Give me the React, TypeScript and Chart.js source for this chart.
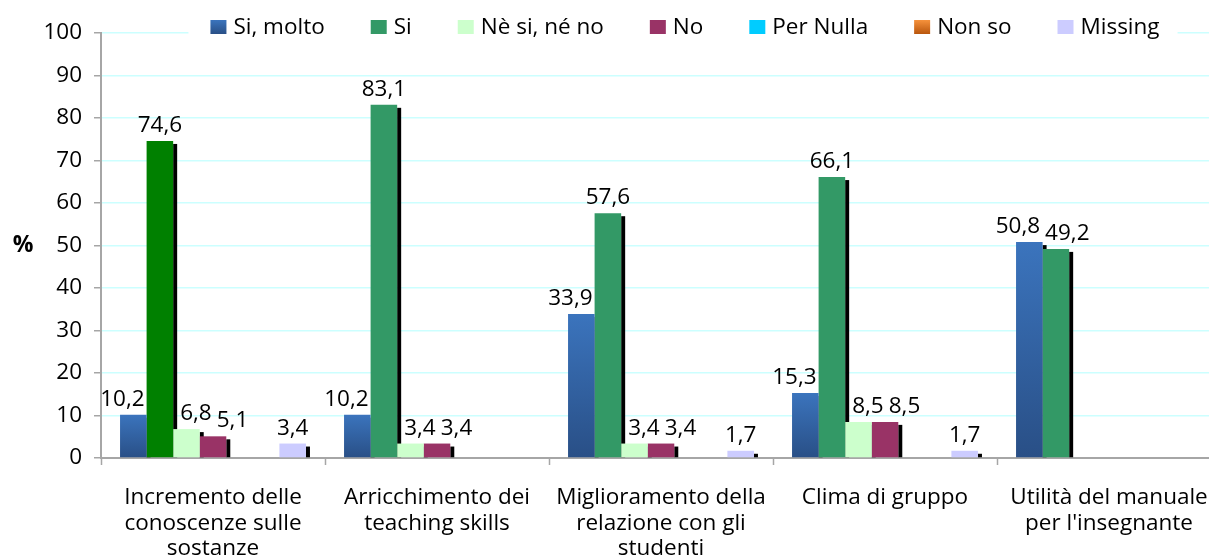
import React, { useEffect, useRef } from 'react';
import { Chart, registerables } from 'chart.js';

Chart.register(...registerables);

// ---- data ----
const categories: string[][] = [
  ['Incremento delle', 'conoscenze sulle', 'sostanze'],
  ['Arricchimento dei', 'teaching skills'],
  ['Miglioramento della', 'relazione con gli', 'studenti'],
  ['Clima di gruppo'],
  ['Utilità del manuale', "per l'insegnante"],
];
const seriesNames = ['Si, molto', 'Si', 'Nè si, né no', 'No', 'Per Nulla', 'Non so', 'Missing'];
const siMolto = [10.2, 10.2, 33.9, 15.3, 50.8];
const si = [74.6, 83.1, 57.6, 66.1, 49.2];
const neSiNeNo = [6.8, 3.4, 3.4, 8.5, null];
const no = [5.1, 3.4, 3.4, 8.5, null];
const perNulla = [null, null, null, null, null];
const nonSo = [null, null, null, null, null];
const missing = [3.4, null, 1.7, 1.7, null];
const yMin = 0;
const yMax = 100;
const yStep = 10;
const yTitle = '%';

// ---- styles ----
const FONT = '"Open Sans", sans-serif';
const FS = 22.5;
const seriesColors = ['#3268ad', '#339966', '#ccffcc', '#993366', '#00ccff', '#e46c0a', '#ccccff'];
const siFirstColor = '#008000';
const gradients: Record<number, [string, string]> = {
  0: ['#3b74bd', '#294f86'],
  5: ['#f6923c', '#b9560d'],
};

const fmt = (v: number) => v.toFixed(1).replace('.', ',');

function barGradient(ctx: any, stops: [string, string]) {
  const chart = ctx.chart;
  const y = chart.scales && chart.scales.y;
  const v = ctx.raw;
  if (!y || v == null || !chart.chartArea) return stops[0];
  const top = y.getPixelForValue(v);
  const base = y.getPixelForValue(0);
  if (!isFinite(top) || !isFinite(base) || top === base) return stops[0];
  const g = chart.ctx.createLinearGradient(0, top, 0, base);
  g.addColorStop(0, stops[0]);
  g.addColorStop(1, stops[1]);
  return g;
}

const shadowPlugin = {
  id: 'barShadow',
  beforeDatasetsDraw(chart: any) {
    const ctx = chart.ctx;
    ctx.save();
    ctx.fillStyle = '#000';
    chart.data.datasets.forEach((ds: any, d: number) => {
      const meta = chart.getDatasetMeta(d);
      meta.data.forEach((el: any, i: number) => {
        const v = ds.data[i];
        if (v == null || v === 0) return;
        const p = el.getProps(['x', 'y', 'base', 'width'], true);
        ctx.fillRect(p.x + p.width / 2, p.y + 3, 4, p.base - p.y - 3);
      });
    });
    ctx.restore();
  },
};

const labelPlugin = {
  id: 'valueLabels',
  afterDatasetsDraw(chart: any) {
    const ctx = chart.ctx;
    ctx.save();
    ctx.font = `${FS}px ${FONT}`;
    ctx.fillStyle = '#000';
    ctx.textAlign = 'left';
    ctx.textBaseline = 'alphabetic';
    const nCat = chart.data.labels.length;
    const nDs = chart.data.datasets.length;
    for (let c = 0; c < nCat; c++) {
      const bars: any[] = [];
      for (let d = 0; d < nDs; d++) {
        const v = chart.data.datasets[d].data[c];
        if (v == null) { bars.push(null); continue; }
        const p = chart.getDatasetMeta(d).data[c].getProps(['x', 'y', 'base', 'width'], true);
        bars.push({ v, cx: p.x, left: p.x - p.width / 2, right: p.x + p.width / 2, top: p.y });
      }
      const placed: any[] = [];
      for (let d = 0; d < nDs; d++) {
        const b = bars[d];
        if (!b) continue;
        const text = fmt(b.v);
        const w = ctx.measureText(text).width;
        const baseline = b.top - 9;
        const boxTop = baseline - 16;
        const boxBottom = baseline + 2;
        let left = b.cx - w / 2;
        let constrained = false;
        const prev = d > 0 ? bars[d - 1] : null;
        if (prev && prev.top < boxBottom && left < prev.right + 7) {
          left = prev.right + 7;
          constrained = true;
        }
        const next = d < nDs - 1 ? bars[d + 1] : null;
        if (next && next.top < boxBottom && left + w > next.left - 2) {
          left = next.left - 2 - w;
          constrained = true;
        }
        const last = placed[placed.length - 1];
        if (last && boxTop < last.bottom && boxBottom > last.top && left < last.left + last.w + 5) {
          const o = last.left + last.w + 5 - left;
          if (last.constrained) {
            left += o;
          } else {
            last.left -= o / 2;
            left += o / 2;
          }
        }
        placed.push({ text, left, w, baseline, top: boxTop, bottom: boxBottom, constrained });
      }
      placed.forEach((l) => ctx.fillText(l.text, l.left, l.baseline));
    }
    ctx.restore();
  },
};

const legendPlugin = {
  id: 'topLegend',
  afterDatasetsDraw(chart: any) {
    const ctx = chart.ctx;
    ctx.save();
    ctx.font = `${FS}px ${FONT}`;
    const sw = 16, sh = 14, gapText = 7, gapItem = 46;
    const items = chart.data.datasets.map((ds: any, d: number) => ({
      label: ds.label,
      d,
      w: ctx.measureText(ds.label).width,
    }));
    const total = items.reduce((s: number, it: any) => s + sw + gapText + it.w, 0) + gapItem * (items.length - 1);
    const centerX = 685;
    const cy = 27;
    let x = centerX - total / 2;
    ctx.fillStyle = '#ffffff';
    ctx.fillRect(x - 22, cy - 13, total + 40, 27);
    ctx.textBaseline = 'middle';
    ctx.textAlign = 'left';
    items.forEach((it: any) => {
      const g = gradients[it.d];
      if (g) {
        const gr = ctx.createLinearGradient(0, cy - sh / 2, 0, cy + sh / 2);
        gr.addColorStop(0, g[0]);
        gr.addColorStop(1, g[1]);
        ctx.fillStyle = gr;
      } else {
        ctx.fillStyle = seriesColors[it.d];
      }
      ctx.fillRect(x, cy - sh / 2, sw, sh);
      x += sw + gapText;
      ctx.fillStyle = '#000';
      ctx.fillText(it.label, x, cy + 1);
      x += it.w + gapItem;
    });
    ctx.restore();
  },
};

const axisTitlePlugin = {
  id: 'yTitle',
  afterDraw(chart: any) {
    const ctx = chart.ctx;
    ctx.save();
    ctx.font = `bold 23px ${FONT}`;
    ctx.fillStyle = '#000';
    ctx.textAlign = 'center';
    ctx.textBaseline = 'middle';
    ctx.fillText(yTitle, 23, 245);
    ctx.restore();
  },
};

const seriesData = [siMolto, si, neSiNeNo, no, perNulla, nonSo, missing];

export default function App() {
  const ref = useRef<HTMLCanvasElement | null>(null);
  useEffect(() => {
    if (!ref.current) return;
    const datasets = seriesData.map((data, d) => {
      let bg: any = seriesColors[d];
      if (gradients[d]) {
        const stops = gradients[d];
        bg = (ctx: any) => barGradient(ctx, stops);
      } else if (d === 1) {
        bg = data.map((_, i) => (i === 0 ? siFirstColor : seriesColors[1]));
      }
      return {
        label: seriesNames[d],
        data,
        backgroundColor: bg,
        borderWidth: 0,
        barPercentage: 1,
        categoryPercentage: 0.83,
      };
    });
    const chart = new Chart(ref.current, {
      type: 'bar',
      data: { labels: categories, datasets },
      options: {
        animation: false,
        responsive: false,
        devicePixelRatio: 1,
        layout: { padding: { top: 33, right: 19, left: 0, bottom: 0 } },
        plugins: {
          legend: { display: false },
          tooltip: { enabled: false },
        },
        scales: {
          x: {
            offset: true,
            grid: {
              offset: true,
              drawOnChartArea: false,
              drawTicks: true,
              tickLength: 7,
              tickColor: '#a6a6a6',
              tickWidth: 1.5,
            },
            border: { display: true, color: '#a6a6a6', width: 2 },
            ticks: {
              autoSkip: false,
              maxRotation: 0,
              minRotation: 0,
              padding: 20,
              color: '#000',
              font: { family: FONT, size: FS, lineHeight: 25.5 / FS },
            },
            afterFit: (s: any) => { s.height = 101; },
          },
          y: {
            min: yMin,
            max: yMax,
            grid: {
              color: '#ccffff',
              lineWidth: 1.5,
              drawTicks: true,
              tickLength: 7,
              tickColor: '#a6a6a6',
              tickWidth: 1.5,
            },
            border: { display: true, color: '#a6a6a6', width: 2 },
            ticks: {
              stepSize: yStep,
              padding: 12,
              color: '#000',
              font: { family: FONT, size: FS },
            },
            afterFit: (s: any) => { s.width = 101; },
          },
        },
      },
      plugins: [shadowPlugin, labelPlugin, legendPlugin, axisTitlePlugin],
    });
    return () => chart.destroy();
  }, []);
  return (
    <div style={{ position: 'fixed', left: 0, top: 0, width: '100vw', height: '100vh', overflow: 'hidden', background: '#fff' }}>
      <canvas ref={ref} width={1240} height={559} style={{ width: 1240, height: 559, display: 'block' }} />
    </div>
  );
}
